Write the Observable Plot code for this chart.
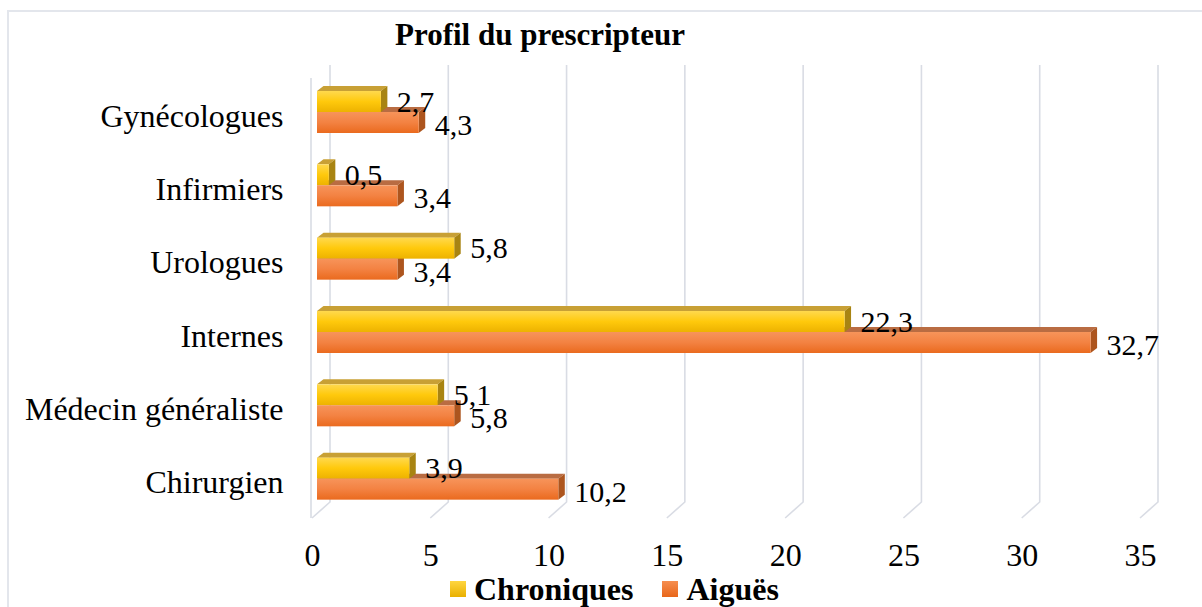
<!DOCTYPE html>
<html>
<head>
<meta charset="utf-8">
<script src="https://cdn.jsdelivr.net/npm/d3@7"></script>
<script src="https://cdn.jsdelivr.net/npm/@observablehq/plot@0.6"></script>
<style>
  html, body { margin: 0; padding: 0; background: #fff; width: 1202px; height: 607px; overflow: hidden; }
  body { position: relative; font-family: "Liberation Serif", "Times New Roman", serif; color: #000; }
  #frame { position: absolute; left: 7px; top: 10px; width: 1400px; height: 800px; border: 2px solid #e3e6ec; box-sizing: border-box; z-index: 0; }
  #wrap { position: relative; z-index: 1; }
  #title { height: 62px; box-sizing: border-box; padding-top: 19px; line-height: 32px; font-size: 31px; font-weight: bold; text-align: center; width: 1080px; }
  #chart svg { display: block; }
  #legend { height: 37px; display: flex; align-items: center; padding-left: 450px; font-size: 32px; font-weight: bold; line-height: 32px; }
  .sw { width: 16px; height: 16px; display: inline-block; margin-right: 8px; }
  .item { display: flex; align-items: center; margin-right: 29px; }
</style>
</head>
<body>
<div id="frame"></div>
<div id="wrap">
  <div id="title"></div>
  <div id="chart"></div>
  <div id="legend"></div>
</div>
<script>
// ---- data ----
const titleText = "Profil du prescripteur";
const categories = ["Gynécologues", "Infirmiers", "Urologues", "Internes", "Médecin généraliste", "Chirurgien"];
const chroniques = [2.7, 0.5, 5.8, 22.3, 5.1, 3.9];
const aigues = [4.3, 3.4, 3.4, 32.7, 5.8, 10.2];
const seriesNames = ["Chroniques", "Aiguës"];
const xTicks = [0, 5, 10, 15, 20, 25, 30, 35];

// ---- styling constants ----
const BAR_H = 21;      // front face height of one bar
const BAR_DX = 5;      // bar front offset from floor front
const DEP_X = 6.5, DEP_Y = 5;   // bar depth
const WALL_X = 18, WALL_Y = 16; // floor depth
const GRID = "#d9dce4";
const colors = {
  chr: {front: "url(#gY)", top: "#c8a035", side: "#a88412", sw: "linear-gradient(#ffd640, #e9b000)"},
  aig: {front: "url(#gO)", top: "#b96c42", side: "#ad551e", sw: "linear-gradient(#f68e50, #e8661a)"}
};
const fmt = v => v.toFixed(1).replace(".", ",");

const rowsC = categories.map((c, i) => ({cat: c, value: chroniques[i]}));
const rowsA = categories.map((c, i) => ({cat: c, value: aigues[i]}));

document.getElementById("title").textContent = titleText;

function bw(y) { return typeof y.bandwidth === "function" ? y.bandwidth() : y.bandwidth; }

function defsMark() {
  const g = d3.create("svg:defs");
  const mk = (id, stops) => {
    const lg = g.append("linearGradient").attr("id", id).attr("x1", 0).attr("y1", 0).attr("x2", 0).attr("y2", 1);
    stops.forEach(([o, c]) => lg.append("stop").attr("offset", o).attr("stop-color", c));
  };
  mk("gY", [[0, "#ffd94e"], [0.5, "#ffc90c"], [1, "#edb200"]]);
  mk("gO", [[0, "#f7945a"], [0.5, "#f38242"], [1, "#ea6a1e"]]);
  return g.node();
}

function gridMark(index, scales, values, dims) {
  const x = scales.x;
  const g = d3.create("svg:g").attr("fill", "none").attr("stroke", GRID).attr("stroke-width", 1.6);
  const front = dims.height - dims.marginBottom;
  const back = front - WALL_Y;
  const top = dims.marginTop + 3;
  for (const t of xTicks) {
    const fx = x(t), bx = fx + WALL_X;
    g.append("path").attr("d", `M${bx},${top}L${bx},${back}L${fx},${front}`);
  }
  g.append("path").attr("d", `M${x(0) - 1},${top + WALL_Y - 3}L${x(0) - 1},${front}`);
  return g.node();
}

function facesMark(rows, key) {
  return (index, scales, values, dims) => {
    const x = scales.x, y = scales.y, h = bw(y);
    const g = d3.create("svg:g");
    for (const r of rows) {
      const cy = y(r.cat) + h / 2;
      const top = key === "chr" ? cy - BAR_H : cy;
      const bot = top + BAR_H;
      const x0 = x(0) + BAR_DX, x1 = x(r.value) + BAR_DX;
      g.append("path")
        .attr("d", `M${x0},${top}L${x0 + DEP_X},${top - DEP_Y}L${x1 + DEP_X},${top - DEP_Y}L${x1},${top}Z`)
        .attr("fill", colors[key].top);
      g.append("path")
        .attr("d", `M${x1},${top}L${x1 + DEP_X},${top - DEP_Y}L${x1 + DEP_X},${bot - DEP_Y}L${x1},${bot}Z`)
        .attr("fill", colors[key].side);
    }
    return g.node();
  };
}

const band = 440 / categories.length;
const half = band / 2;

const chart = Plot.plot({
  width: 1202,
  height: 508,
  marginLeft: 312,
  marginRight: 62,
  marginTop: 0,
  marginBottom: 52,
  style: {fontFamily: "'Liberation Serif', 'Times New Roman', serif", color: "#000", background: "transparent", overflow: "visible"},
  x: {domain: [0, 35]},
  y: {type: "band", domain: categories, range: [13.33, 453.33], padding: 0, round: false},
  marks: [
    defsMark,
    gridMark,
    facesMark(rowsA, "aig"),
    facesMark(rowsC, "chr"),
    Plot.barX(rowsC, {x1: 0, x2: "value", y: "cat", dx: BAR_DX, insetTop: half - BAR_H, insetBottom: half, fill: colors.chr.front}),
    Plot.barX(rowsA, {x1: 0, x2: "value", y: "cat", dx: BAR_DX, insetTop: half, insetBottom: half - BAR_H, fill: colors.aig.front}),
    Plot.text(rowsC, {x: "value", y: "cat", text: d => fmt(d.value), dx: BAR_DX + DEP_X + 9, dy: -BAR_H / 2, textAnchor: "start", fontSize: 30, fill: "#000"}),
    Plot.text(rowsA, {x: "value", y: "cat", text: d => fmt(d.value), dx: BAR_DX + DEP_X + 9, dy: BAR_H / 2 + 2.5, textAnchor: "start", fontSize: 30, fill: "#000"}),
    Plot.axisX({ticks: xTicks, tickFormat: d => String(d), tickSize: 0, tickPadding: 25, fontSize: 32, label: null, anchor: "bottom"}),
    Plot.axisY({tickSize: 0, tickPadding: 29, fontSize: 32, label: null, anchor: "left", dy: 4})
  ]
});
document.getElementById("chart").appendChild(chart);

const legend = document.getElementById("legend");
seriesNames.forEach((name, i) => {
  const key = i === 0 ? "chr" : "aig";
  const item = document.createElement("span");
  item.className = "item";
  const sw = document.createElement("span");
  sw.className = "sw";
  sw.style.background = colors[key].sw;
  const t = document.createElement("span");
  t.textContent = name;
  item.appendChild(sw);
  item.appendChild(t);
  legend.appendChild(item);
});
</script>
</body>
</html>
